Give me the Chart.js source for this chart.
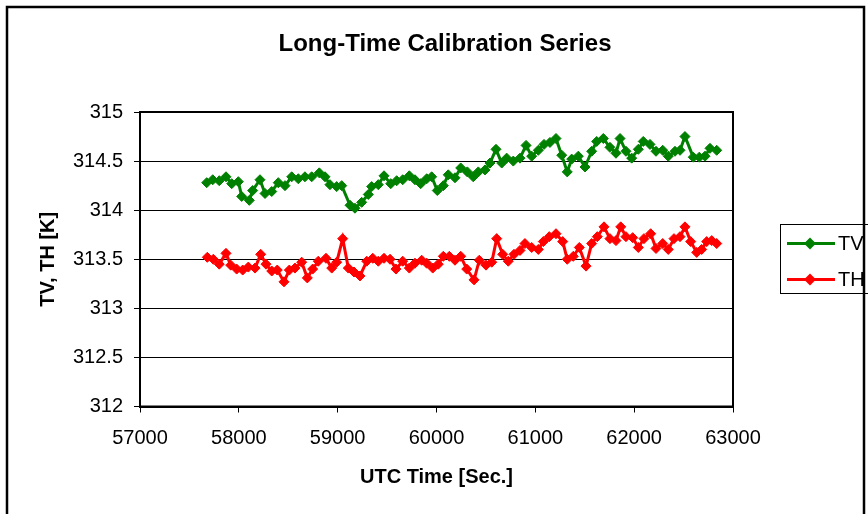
<!DOCTYPE html>
<html>
<head>
<meta charset="utf-8">
<script src="https://cdn.jsdelivr.net/npm/chart.js@4/dist/chart.umd.min.js"></script>
<style>
  html, body { margin: 0; padding: 0; background: #fff; }
  #wrap { width: 868px; height: 514px; position: relative; }
</style>
</head>
<body>
<div id="wrap"><canvas id="c" width="868" height="514"></canvas></div>
<script>
// ---- Data ----
const chartTitle = 'Long-Time Calibration Series';
const xAxisTitle = 'UTC Time [Sec.]';
const yAxisTitle = 'TV, TH [K]';
const seriesNames = ['TV', 'TH'];

const tvTime = [57675,57736,57802,57870,57928,57995,58029,58106,58140,58214,58265,58333,58399,58467,58535,58602,58669,58737,58814,58872,58922,58990,59041,59125,59175,59243,59310,59344,59411,59469,59537,59597,59658,59725,59782,59840,59901,59951,60008,60069,60119,60187,60245,60312,60372,60423,60491,60541,60602,60660,60710,60777,60845,60906,60963,61030,61088,61148,61209,61267,61323,61368,61435,61503,61570,61621,61688,61755,61816,61857,61917,61975,62042,62092,62160,62221,62289,62345,62413,62464,62514,62598,62659,62717,62767,62835];
const tvValues = [314.28,314.31,314.30,314.34,314.27,314.29,314.14,314.10,314.20,314.31,314.17,314.19,314.28,314.25,314.34,314.32,314.34,314.34,314.38,314.34,314.26,314.24,314.25,314.05,314.02,314.08,314.16,314.24,314.26,314.35,314.27,314.30,314.31,314.35,314.31,314.27,314.32,314.34,314.20,314.25,314.36,314.33,314.43,314.39,314.34,314.39,314.41,314.48,314.62,314.48,314.53,314.50,314.53,314.66,314.55,314.61,314.67,314.69,314.73,314.56,314.39,314.52,314.55,314.44,314.60,314.70,314.73,314.64,314.58,314.73,314.60,314.53,314.62,314.70,314.67,314.60,314.61,314.55,314.60,314.61,314.75,314.54,314.54,314.55,314.63,314.61];

const thTime = [57681,57742,57802,57870,57918,57978,58039,58096,58164,58221,58275,58333,58389,58457,58511,58568,58636,58693,58747,58804,58882,58940,58990,59051,59108,59165,59226,59294,59355,59411,59469,59530,59590,59658,59725,59782,59850,59901,59962,60018,60069,60130,60187,60245,60306,60380,60433,60501,60559,60609,60670,60726,60784,60845,60895,60963,61030,61081,61141,61209,61277,61323,61384,61445,61513,61570,61627,61695,61755,61816,61864,61917,61985,62042,62099,62167,62221,62289,62345,62403,62464,62514,62572,62633,62683,62734,62785,62835];
const thValues = [313.52,313.50,313.45,313.56,313.44,313.40,313.39,313.42,313.41,313.55,313.45,313.38,313.39,313.27,313.39,313.41,313.47,313.31,313.40,313.48,313.51,313.41,313.47,313.71,313.41,313.37,313.33,313.48,313.51,313.48,313.51,313.50,313.40,313.48,313.41,313.46,313.49,313.46,313.41,313.45,313.53,313.53,313.49,313.53,313.40,313.29,313.49,313.44,313.47,313.71,313.55,313.48,313.55,313.59,313.66,313.62,313.60,313.68,313.73,313.76,313.68,313.50,313.53,313.62,313.43,313.66,313.73,313.83,313.71,313.69,313.83,313.73,313.72,313.62,313.71,313.76,313.61,313.66,313.60,313.71,313.73,313.83,313.68,313.57,313.60,313.68,313.69,313.66];

const xMin = 57000, xMax = 63000, xStep = 1000;
const yMin = 312, yMax = 315, yStep = 0.5;

// ---- Build chart ----
const toPoints = (xs, ys) => xs.map((x, i) => ({ x: x, y: ys[i] }));
const FONT = 'Arial, "Liberation Sans", sans-serif';

const frame = {
  id: 'frame',
  beforeDraw(chart) {
    const ctx = chart.ctx;
    ctx.save();
    ctx.fillStyle = '#fff';
    ctx.fillRect(0, 0, chart.width, chart.height);
    ctx.strokeStyle = '#000';
    ctx.lineWidth = 2.5;
    ctx.strokeRect(7, 7, 857, 520);
    // Chart title
    ctx.fillStyle = '#000';
    ctx.font = 'bold 24px ' + FONT;
    ctx.textAlign = 'center';
    ctx.textBaseline = 'middle';
    ctx.fillText(chartTitle, 445, 44);
    ctx.restore();
  },
  afterDatasetsDraw(chart) {
    const a = chart.chartArea, ctx = chart.ctx;
    ctx.save();
    ctx.strokeStyle = '#000';
    ctx.lineWidth = 2;
    ctx.strokeRect(a.left, a.top, a.right - a.left, a.bottom - a.top);
    ctx.restore();
  },
  afterDraw(chart) {
    // Legend box on the right
    const ctx = chart.ctx;
    ctx.save();
    ctx.strokeStyle = '#000';
    ctx.lineWidth = 1;
    ctx.strokeRect(780.5, 224.5, 100, 69);
    const rows = [243.5, 279.5];
    chart.data.datasets.forEach((ds, i) => {
      const y = rows[i];
      ctx.strokeStyle = ds.borderColor;
      ctx.lineWidth = 3;
      ctx.beginPath(); ctx.moveTo(787, y); ctx.lineTo(835, y); ctx.stroke();
      ctx.fillStyle = ds.backgroundColor;
      ctx.beginPath();
      ctx.moveTo(810, y - 6); ctx.lineTo(816, y); ctx.lineTo(810, y + 6); ctx.lineTo(804, y);
      ctx.closePath(); ctx.fill();
      ctx.fillStyle = '#000';
      ctx.font = '20px ' + FONT;
      ctx.textBaseline = 'middle';
      ctx.textAlign = 'left';
      ctx.fillText(ds.label, 838, y + 1);
    });
    ctx.restore();
  }
};

new Chart(document.getElementById('c'), {
  type: 'line',
  data: {
    datasets: [
      { label: seriesNames[0], data: toPoints(tvTime, tvValues), borderColor: '#008000', backgroundColor: '#008000' },
      { label: seriesNames[1], data: toPoints(thTime, thValues), borderColor: '#ff0000', backgroundColor: '#ff0000' }
    ]
  },
  options: {
    responsive: false,
    animation: false,
    devicePixelRatio: 1,
    layout: { padding: { left: 0, right: 135, top: 112, bottom: 0 } },
    elements: {
      line: { borderWidth: 3, tension: 0 },
      point: { pointStyle: 'rectRot', radius: 5, borderWidth: 1, hoverRadius: 5 }
    },
    plugins: {
      legend: { display: false },
      tooltip: { enabled: false },
      title: { display: false }
    },
    scales: {
      x: {
        type: 'linear',
        min: xMin, max: xMax,
        afterFit(s) { s.height = 107.5; },
        ticks: {
          stepSize: xStep,
          color: '#000',
          padding: 14,
          maxRotation: 0,
          font: { family: FONT, size: 20 },
          callback: v => String(v)
        },
        grid: { display: true, drawOnChartArea: false, drawTicks: true, tickLength: 6, color: '#000', lineWidth: 1 },
        border: { display: true, color: '#000', width: 2 },
        title: {
          display: true, text: xAxisTitle, color: '#000',
          font: { family: FONT, size: 20, weight: 'bold', lineHeight: 1.2 },
          padding: { top: 0, bottom: 25 }
        }
      },
      y: {
        min: yMin, max: yMax,
        afterFit(s) { s.width = 140; },
        ticks: {
          stepSize: yStep,
          color: '#000',
          padding: 11,
          font: { family: FONT, size: 20 },
          callback: v => String(v)
        },
        grid: { display: true, drawOnChartArea: true, drawTicks: true, tickLength: 6, color: '#000', lineWidth: 1 },
        border: { display: true, color: '#000', width: 2 },
        title: {
          display: true, text: yAxisTitle, color: '#000',
          font: { family: FONT, size: 20, weight: 'bold', lineHeight: 1.2 },
          padding: { top: 36, bottom: 0 }
        }
      }
    }
  },
  plugins: [frame]
});
</script>
</body>
</html>
